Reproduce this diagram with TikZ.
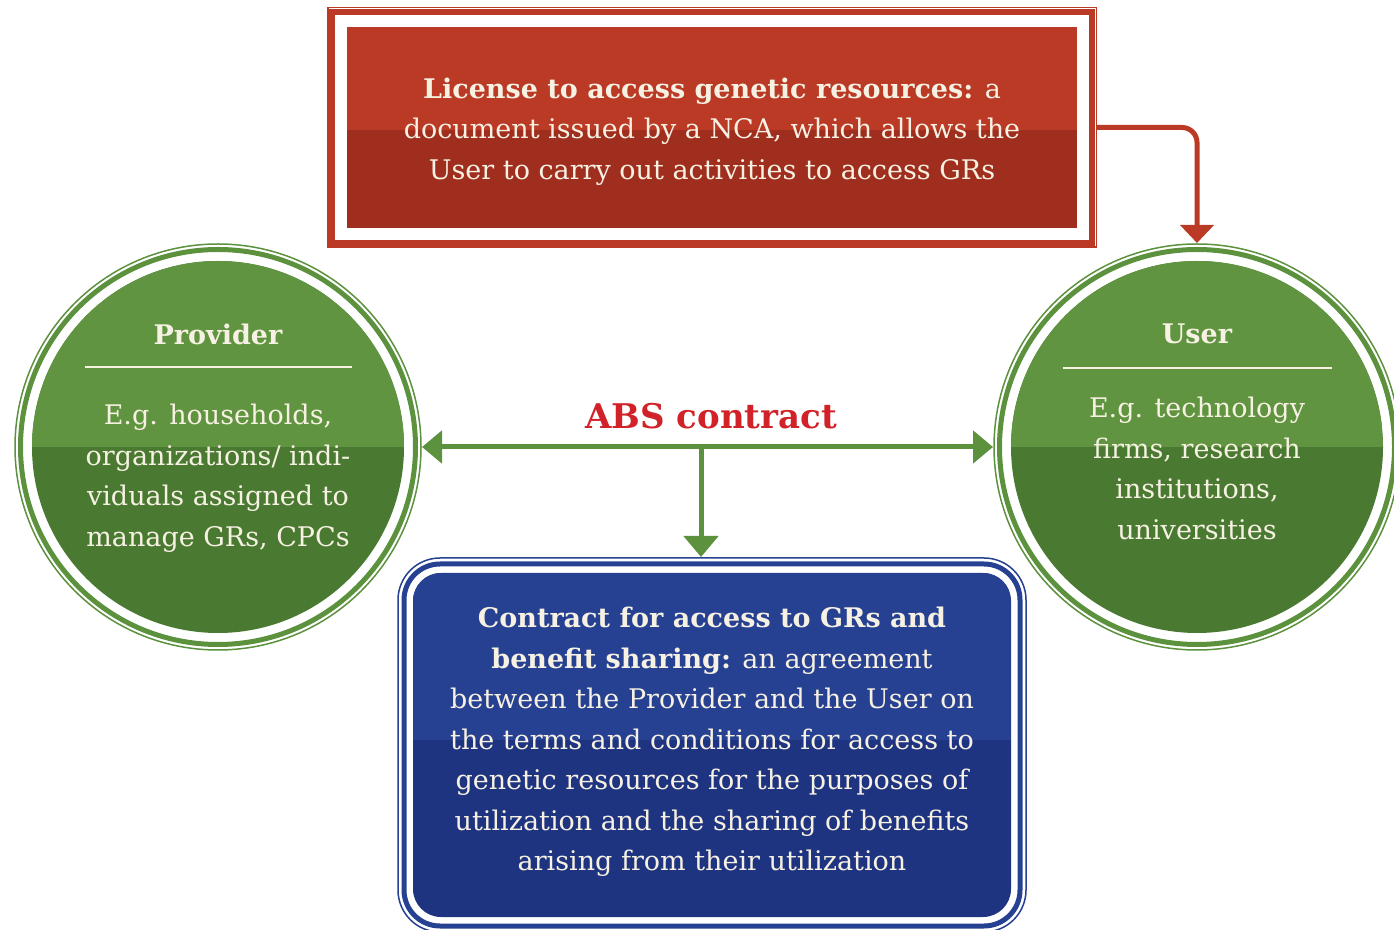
\documentclass[tikz,border=0pt]{standalone}
\usepackage{fontspec}
\setmainfont{DejaVu Serif}
\usetikzlibrary{positioning,arrows.meta}
\definecolor{licred}{RGB}{186,58,38}
\definecolor{licreddark}{RGB}{160,46,30}
\definecolor{absgreen}{RGB}{96,148,64}
\definecolor{absgreendark}{RGB}{74,122,50}
\definecolor{ringgreen}{RGB}{92,145,62}
\definecolor{conblue}{RGB}{38,64,146}
\definecolor{conbluedark}{RGB}{31,52,128}
\definecolor{paper}{RGB}{246,241,226}
\definecolor{abstext}{RGB}{208,34,40}
\begin{document}
\begin{tikzpicture}[x=1pt,y=1pt,
        twotone/.style n args={3}{fill=#2, path picture={\fill[#1, sharp corners] ([yshift=#3]path picture bounding box.east) rectangle (path picture bounding box.north west);}},
        bodytext/.style={text=paper, align=center, inner sep=0pt, font=\fontsize{27}{40.5}\selectfont},
        headtext/.style={bodytext, font=\fontsize{27}{40.5}\selectfont\bfseries},
        licensebox/.style={twotone={licred}{licreddark}{-2.5pt}, bodytext, minimum width=730pt, minimum height=201pt, outer sep=20pt},
        partycircle/.style={circle, twotone={absgreen}{absgreendark}{0pt}, minimum size=372pt, inner sep=0pt, outer sep=18pt},
        contractbox/.style={twotone={conblue}{conbluedark}{5pt}, bodytext, rounded corners=28pt, minimum width=598pt, minimum height=344pt, outer sep=16pt},
        abslabel/.style={text=abstext, font=\fontsize{34}{40}\selectfont\bfseries},
        headrule/.style={paper, line width=2pt},
        ringthick/.style={ringgreen, line width=5pt},
        ringthin/.style={ringgreen, line width=1.5pt},
        flow/.style={line width=5pt, -{Triangle[width=34pt,length=21pt]}}]
    \useasboundingbox (0,0) rectangle (1394,929);
    \clip (0,0) rectangle (1394,929);

    \node[licensebox] (license) at (712,801.5) {\rule{0pt}{29pt}\textbf{License to access genetic resources:} a\\document issued by a NCA, which allows the\\User to carry out activities to access GRs};
    \draw[licred, line width=5.5pt] ([shift={(5,-5)}]license.north west) rectangle ([shift={(-5,5)}]license.south east);
    \draw[licred, line width=1.5pt] ([shift={(0.75,-0.75)}]license.north west) rectangle ([shift={(-0.75,0.75)}]license.south east);

    \node[partycircle] (provider) at (218,482) {};
    \draw[ringthick] (provider.center) circle (197.5);
    \draw[ringthin] (provider.center) circle (203);
    \node[headtext] (providertitle) at ([yshift=113pt]provider.center) {Provider};
    \draw[headrule] ([xshift=-133.5pt, yshift=80pt]provider.center) -- ++(267,0);
    \node[bodytext] (providertext) at ([yshift=-31pt]provider.center) {E.g. households,\\organizations/ indi-\\viduals assigned to\\manage GRs, CPCs};

    \node[partycircle] (user) at (1197,482) {};
    \draw[ringthick] (user.center) circle (197.5);
    \draw[ringthin] (user.center) circle (203);
    \node[headtext] (usertitle) at ([yshift=113pt]user.center) {User};
    \draw[headrule] ([xshift=-134.5pt, yshift=79pt]user.center) -- ++(269,0);
    \node[bodytext] (usertext) at ([yshift=-21.5pt]user.center) {E.g. technology\\firms, research\\institutions,\\universities};

    \node[contractbox] (contract) at (712,184) {\textbf{Contract for access to GRs and}\\\textbf{benefit sharing:} an agreement\\between the Provider and the User on\\the terms and conditions for access to\\genetic resources for the purposes of\\utilization and the sharing of benefits\\arising from their utilization\rule[-12.5pt]{0pt}{1pt}};
    \draw[conblue, line width=5pt, rounded corners=36pt] ([shift={(7,-7)}]contract.north west) rectangle ([shift={(-7,7)}]contract.south east);
    \draw[conblue, line width=1.5pt, rounded corners=42pt] ([shift={(1,-1)}]contract.north west) rectangle ([shift={(-1,1)}]contract.south east);

    \node[abslabel] (abs) at (711,513) {ABS contract};
    \coordinate (junction) at (701,482);

    \draw[flow, licred, -{Triangle[width=33pt,length=18pt]}, rounded corners=15pt] (license.east) -| (user.north);
    \draw[flow, ringgreen, {Triangle[width=32pt,length=20pt]}-{Triangle[width=32pt,length=20pt]}] (provider.east) -- (user.west);
    \draw[flow, ringgreen] (junction) -- (junction |- contract.north);
\end{tikzpicture}
\end{document}
